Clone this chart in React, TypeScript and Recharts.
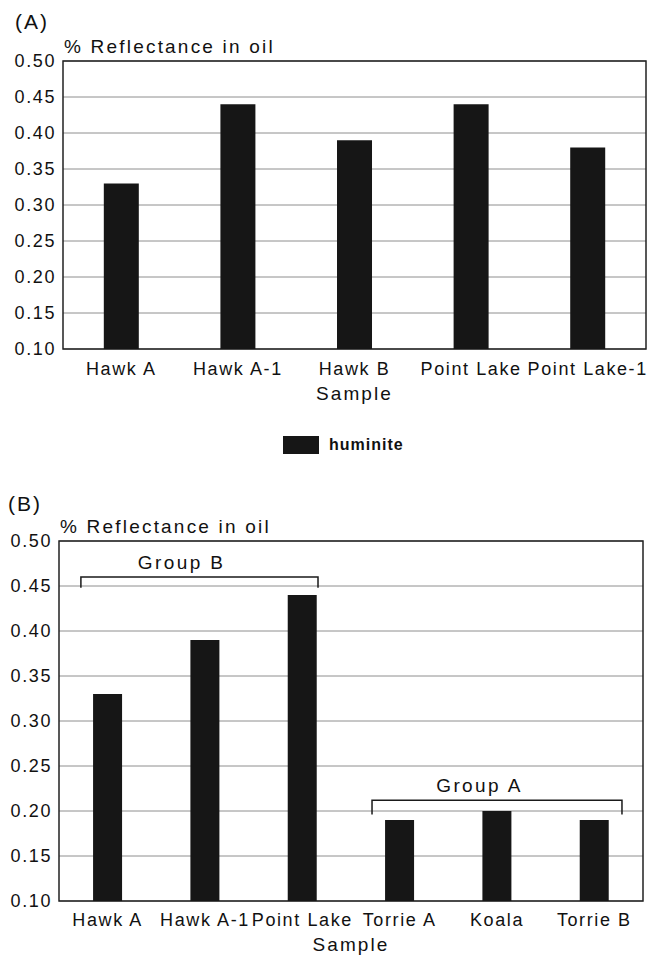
import React from 'react';
import { BarChart, Bar, XAxis, YAxis, CartesianGrid, ReferenceArea, Legend } from 'recharts';

const samplesA = ['Hawk A', 'Hawk A-1', 'Hawk B', 'Point Lake', 'Point Lake-1'];
const huminiteA = [0.33, 0.44, 0.39, 0.44, 0.38];

const samplesB = ['Hawk A', 'Hawk A-1', 'Point Lake', 'Torrie A', 'Koala', 'Torrie B'];
const huminiteB = [0.33, 0.39, 0.44, 0.19, 0.2, 0.19];

const yTicks = [0.1, 0.15, 0.2, 0.25, 0.3, 0.35, 0.4, 0.45, 0.5];
const yDomain = [0.1, 0.5];

const groupB = { label: 'Group B', from: 'Hawk A', to: 'Point Lake', low: 0.448, high: 0.46 };
const groupA = { label: 'Group A', from: 'Torrie A', to: 'Torrie B', low: 0.196, high: 0.212 };

const seriesName = 'huminite';
const yTitle = '% Reflectance in oil';
const xTitle = 'Sample';

const dataA = samplesA.map((s, i) => ({ sample: s, huminite: huminiteA[i] }));
const dataB = samplesB.map((s, i) => ({ sample: s, huminite: huminiteB[i] }));

const FONT = "'Liberation Sans', Arial, Helvetica, sans-serif";
const INK = '#111';
const BAR = '#161616';
const GRID = '#8e8e8e';

const tickStyle = { fontSize: 18, fill: INK, letterSpacing: 1.6, fontFamily: FONT };

const yLabel = (props: any) => {
  const vb = props.viewBox;
  return (
    <text x={vb.x + vb.width + 1} y={vb.y - 8} fontSize={19} fill={INK} letterSpacing={2.2} fontFamily={FONT}>
      {yTitle}
    </text>
  );
};

const makeBracket = (leftFrac: number, rightFrac: number) => (props: any) => {
  const { x, y, width, height } = props;
  const x0 = x + width * leftFrac;
  const x1 = x + width * (1 - rightFrac);
  return (
    <path
      d={`M${x0},${y + height} V${y} H${x1} V${y + height}`}
      fill="none"
      stroke="#1a1a1a"
      strokeWidth={1.5}
    />
  );
};

const makeGroupLabel = (text: string, frac: number) => (props: any) => {
  const vb = props.viewBox;
  return (
    <text x={vb.x + vb.width * frac} y={vb.y - 8} textAnchor="middle" fontSize={19} fill={INK} letterSpacing={2.4} fontFamily={FONT}>
      {text}
    </text>
  );
};

const renderLegend = (props: any) => {
  const { payload } = props;
  return (
    <div style={{ display: 'flex', alignItems: 'center', height: 20 }}>
      {(payload || []).map((entry: any, i: number) => (
        <div key={i} style={{ display: 'flex', alignItems: 'center' }}>
          <svg width={36} height={18} style={{ display: 'block' }}>
            <rect x={0} y={0} width={36} height={18} fill={entry.color} />
          </svg>
          <span style={{ marginLeft: 10, fontSize: 16, fontWeight: 'bold', letterSpacing: 1, color: INK, fontFamily: FONT }}>
            {entry.value}
          </span>
        </div>
      ))}
    </div>
  );
};

const fmt = (v: number) => v.toFixed(2);

export default function App() {
  return (
    <div style={{ position: 'absolute', left: 0, top: 0, width: 651, height: 958, background: '#fff', fontFamily: FONT, overflow: 'hidden' }}>
      <div style={{ position: 'absolute', left: 15, top: 10, fontSize: 21, letterSpacing: 2, color: INK, lineHeight: 'normal' }}>(A)</div>
      <div style={{ position: 'absolute', left: 0, top: 0 }}>
        <BarChart width={651} height={470} data={dataA} margin={{ top: 61, right: 5, left: 0, bottom: 71 }} barCategoryGap="35%">
          <CartesianGrid vertical={false} stroke={GRID} strokeWidth={1} />
          <XAxis
            dataKey="sample"
            interval={0}
            tickLine={false}
            axisLine={false}
            tickSize={0}
            tickMargin={13}
            height={30}
            tick={tickStyle}
            label={{ value: xTitle, position: 'bottom', offset: 8, fontSize: 19, fill: INK, letterSpacing: 2.1, fontFamily: FONT }}
          />
          <YAxis
            width={63}
            domain={yDomain}
            ticks={yTicks}
            tickFormatter={fmt}
            tickLine={false}
            axisLine={false}
            tickSize={0}
            tickMargin={7}
            tick={tickStyle}
            label={yLabel}
          />
          <ReferenceArea y1={yDomain[0]} y2={yDomain[1]} fill="none" stroke="#222" strokeWidth={1.5} fillOpacity={0} />
          <Bar dataKey="huminite" name={seriesName} fill={BAR} isAnimationActive={false} />
          <Legend content={renderLegend} wrapperStyle={{ top: 435, left: 283, width: 'auto' }} />
        </BarChart>
      </div>

      <div style={{ position: 'absolute', left: 8, top: 492, fontSize: 21, letterSpacing: 2, color: INK, lineHeight: 'normal' }}>(B)</div>
      <div style={{ position: 'absolute', left: 0, top: 470 }}>
        <BarChart width={651} height={488} data={dataB} margin={{ top: 71, right: 8, left: 0, bottom: 27 }} barCategoryGap="35%">
          <CartesianGrid vertical={false} stroke={GRID} strokeWidth={1} />
          <XAxis
            dataKey="sample"
            interval={0}
            tickLine={false}
            axisLine={false}
            tickSize={0}
            tickMargin={12}
            height={30}
            tick={tickStyle}
            label={{ value: xTitle, position: 'bottom', offset: 7, fontSize: 19, fill: INK, letterSpacing: 2.1, fontFamily: FONT }}
          />
          <YAxis
            width={59}
            domain={yDomain}
            ticks={yTicks}
            tickFormatter={fmt}
            tickLine={false}
            axisLine={false}
            tickSize={0}
            tickMargin={7}
            tick={tickStyle}
            label={yLabel}
          />
          <ReferenceArea y1={yDomain[0]} y2={yDomain[1]} fill="none" stroke="#222" strokeWidth={1.5} fillOpacity={0} />
          <ReferenceArea
            x1={groupB.from}
            x2={groupB.to}
            y1={groupB.low}
            y2={groupB.high}
            shape={makeBracket(0.075, 0.113)}
            label={makeGroupLabel(groupB.label, 0.42)}
          />
          <ReferenceArea
            x1={groupA.from}
            x2={groupA.to}
            y1={groupA.low}
            y2={groupA.high}
            shape={makeBracket(0.072, 0.072)}
            label={makeGroupLabel(groupA.label, 0.44)}
          />
          <Bar dataKey="huminite" name={seriesName} fill={BAR} isAnimationActive={false} />
        </BarChart>
      </div>
    </div>
  );
}
